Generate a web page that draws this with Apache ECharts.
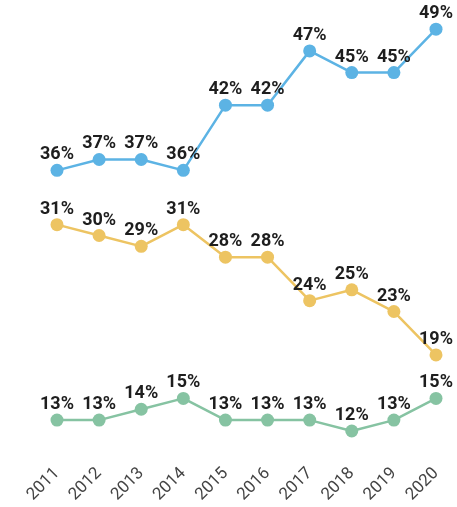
<!DOCTYPE html>
<html><head><meta charset="utf-8">
<script src="https://cdn.jsdelivr.net/npm/echarts@6/dist/echarts.min.js"></script>
<style>html,body{margin:0;padding:0;background:#fff}#c{width:457px;height:507px}</style>
</head><body><div id="c"></div>
<script>
const years = ['2011','2012','2013','2014','2015','2016','2017','2018','2019','2020'];
const blueSeries = [36,37,37,36,42,42,47,45,45,49];
const yellowSeries = [31,30,29,31,28,28,24,25,23,19];
const greenSeries = [13,13,14,15,13,13,13,12,13,15];

const chart = echarts.init(document.getElementById('c'));
function mk(data, color){
  return {
    type:'line', data:data, symbol:'circle', symbolSize:13,
    itemStyle:{color:color}, lineStyle:{color:color,width:2.5},
    label:{show:true, position:'top', distance:0, formatter:'{c}%', color:'#1e1e1e',
      fontFamily:'Roboto', fontWeight:'bold', fontSize:18},
    z:2
  };
}
chart.setOption({
  animation:false,
  grid:{left:57,right:21,top:18.3,bottom:54.3},
  xAxis:{type:'category',data:years,boundaryGap:false,
    axisLine:{show:false},axisTick:{show:false},
    axisLabel:{rotate:45,margin:18,color:'#444',fontFamily:'Roboto',fontSize:17}},
  yAxis:{type:'value',min:10,max:50,show:false,splitLine:{show:false}},
  series:[mk(blueSeries,'#5CB3E4'),mk(yellowSeries,'#EDC462'),mk(greenSeries,'#86C3A2')]
});
</script></body></html>
